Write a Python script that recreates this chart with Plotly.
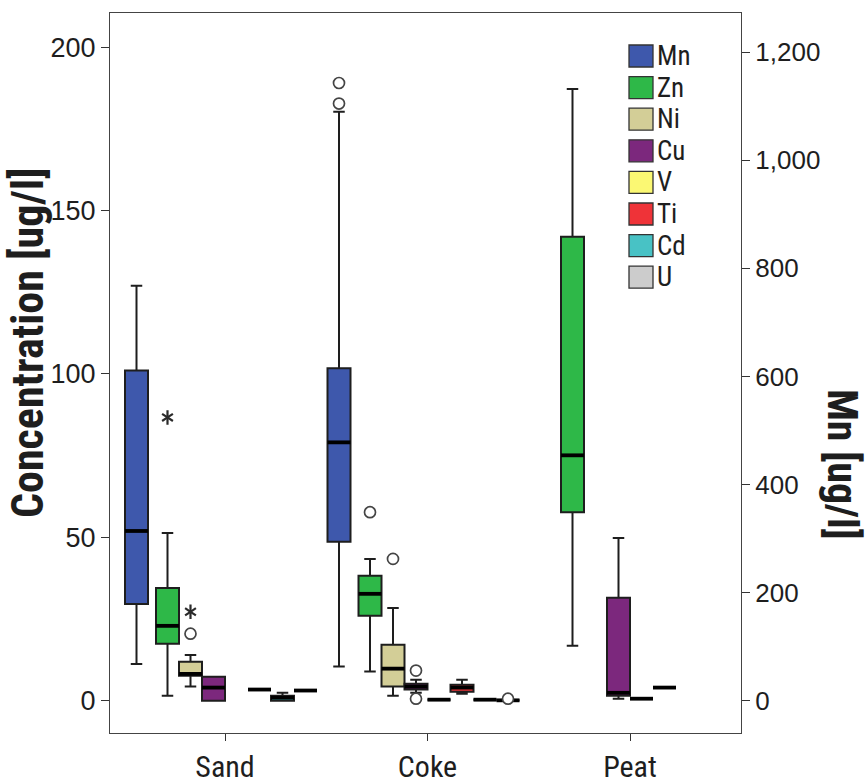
import plotly.graph_objects as go

# ---- data -------------------------------------------------------------
categories = ["Sand", "Coke", "Peat"]
elements = ["Mn", "Zn", "Ni", "Cu", "V", "Ti", "Cd", "U"]
colors = ["#3E58AC", "#2EB848", "#D3CE97", "#7C287D",
          "#FBF873", "#EF3338", "#48C2C5", "#CCCCCC"]

# five-number summaries per element, one entry per category (None = no data)
# Mn is in ug/l on the right axis, the others on the left axis
q1 = {
    "Mn": [179, 294, None], "Zn": [17.4, 26.0, 57.7], "Ni": [7.6, 4.3, None],
    "Cu": [0.0, 3.4, 1.5], "V": [None, 0.3, 0.6], "Ti": [3.4, 2.7, 4.0],
    "Cd": [0.0, 0.3, None], "U": [3.1, 0.1, None],
}
median = {
    "Mn": [314, 478, None], "Zn": [22.9, 32.7, 75.1], "Ni": [8.2, 9.8, None],
    "Cu": [4.0, 4.3, 2.4], "V": [None, 0.3, 0.6], "Ti": [3.4, 4.0, 4.0],
    "Cd": [0.9, 0.3, None], "U": [3.1, 0.1, None],
}
q3 = {
    "Mn": [611, 615, None], "Zn": [34.5, 38.2, 142.0], "Ni": [11.9, 17.1, None],
    "Cu": [7.3, 5.2, 31.5], "V": [None, 0.3, 0.6], "Ti": [3.4, 4.9, 4.0],
    "Cd": [1.5, 0.3, None], "U": [3.1, 0.1, None],
}
lower = {
    "Mn": [68, 63, None], "Zn": [1.5, 8.9, 16.8], "Ni": [4.3, 1.5, None],
    "Cu": [0.0, 2.4, 0.6], "V": [None, 0.3, 0.6], "Ti": [3.4, 2.1, 4.0],
    "Cd": [0.0, 0.3, None], "U": [3.1, 0.1, None],
}
upper = {
    "Mn": [768, 1090, None], "Zn": [51.3, 43.4, 187.2], "Ni": [14.0, 28.4, None],
    "Cu": [7.3, 6.4, 49.8], "V": [None, 0.3, 0.6], "Ti": [3.4, 6.4, 4.0],
    "Cd": [2.4, 0.3, None], "U": [3.1, 0.1, None],
}
# outliers (circles) and extreme values (stars): (element, category index, value)
outliers = [
    ("Mn", 1, 1105), ("Mn", 1, 1143),
    ("Zn", 1, 57.7),
    ("Ni", 0, 20.5), ("Ni", 1, 43.4),
    ("Cu", 1, 9.2), ("Cu", 1, 0.6),
    ("U", 1, 0.6),
]
extremes = [
    ("Zn", 0, 86.7),
    ("Ni", 0, 27.2),
]

# ---- geometry -----------------------------------------------------------
W, H = 868, 784
L, R, T, B = 110, 741, 13, 733          # plot area in pixels
PX_PER_CAT = 202.5                        # pixels between category centres
SLOT = 23 / PX_PER_CAT                    # box width in category units
offsets = {e: (i - 3.5) * SLOT for i, e in enumerate(elements)}
offsets["Mn"] = -88.5 / PX_PER_CAT        # Mn cluster sits a little further left
X0 = -(225 - L) / PX_PER_CAT
X1 = X0 + (R - L) / PX_PER_CAT

def px_x(px):
    return (px - L) / (R - L)

def px_y(py):
    return (B - py) / (B - T)

NARROW = '"Liberation Sans Narrow", "Arial Narrow", "Roboto Condensed", Roboto, sans-serif'
REGULAR = '"Liberation Sans", Arial, sans-serif'
INK = "#1e1e1e"

fig = go.Figure()

# ---- boxes -----------------------------------------------------------------
med_x, med_y, med_x2, med_y2 = [], [], [], []
for e, col in zip(elements, colors):
    idx = [k for k in range(len(categories)) if q1[e][k] is not None]
    if not idx:
        continue
    xs = [k + offsets[e] for k in idx]
    on_right = e == "Mn"
    fig.add_trace(go.Box(
        name=e, x=xs,
        q1=[q1[e][k] for k in idx], median=[median[e][k] for k in idx],
        q3=[q3[e][k] for k in idx], lowerfence=[lower[e][k] for k in idx],
        upperfence=[upper[e][k] for k in idx],
        width=SLOT, whiskerwidth=0.5, boxpoints=False,
        fillcolor=col, line=dict(color=INK, width=2),
        yaxis="y2" if on_right else "y", showlegend=False, hoverinfo="skip",
    ))
    for k, x in zip(idx, xs):
        tx = [x - SLOT / 2, x + SLOT / 2, None]
        ty = [median[e][k], median[e][k], None]
        if on_right:
            med_x2 += tx
            med_y2 += ty
        else:
            med_x += tx
            med_y += ty

# thick median bars
fig.add_trace(go.Scatter(x=med_x, y=med_y, mode="lines",
                         line=dict(color="black", width=3.8),
                         showlegend=False, hoverinfo="skip"))
fig.add_trace(go.Scatter(x=med_x2, y=med_y2, mode="lines", yaxis="y2",
                         line=dict(color="black", width=3.8),
                         showlegend=False, hoverinfo="skip"))

# ---- outliers (open circles) and extremes (six-armed stars) --------------
for axis in ("y", "y2"):
    pts = [(k + offsets[e], v) for e, k, v in outliers
           if (e == "Mn") == (axis == "y2")]
    if pts:
        fig.add_trace(go.Scatter(
            x=[p[0] for p in pts], y=[p[1] for p in pts], mode="markers",
            yaxis=axis,
            marker=dict(symbol="circle", size=11, color="white",
                        line=dict(color="#444444", width=1.7)),
            showlegend=False, hoverinfo="skip"))

star_x = [k + offsets[e] for e, k, v in extremes]
star_y = [v for e, k, v in extremes]
for sym in ("y-up-open", "y-down-open"):
    fig.add_trace(go.Scatter(
        x=star_x, y=star_y, mode="markers",
        marker=dict(symbol=sym, size=9, color="#2a2a2a",
                    line=dict(color="#2a2a2a", width=2.2)),
        showlegend=False, hoverinfo="skip"))

# ---- layout -------------------------------------------------------------
left_range = [-9.9, 210.5]
mn_scale = 1200 / 198.5
right_range = [left_range[0] * mn_scale, left_range[1] * mn_scale]

fig.update_layout(
    width=W, height=H,
    margin=dict(l=L, r=W - R, t=T, b=H - B, pad=0),
    paper_bgcolor="white", plot_bgcolor="white",
    showlegend=False, boxmode="overlay",
    xaxis=dict(
        range=[X0, X1], tickvals=list(range(len(categories))),
        ticktext=categories, ticks="outside", ticklen=7, tickwidth=1.3,
        tickcolor="#333333", showgrid=False, zeroline=False, automargin=False,
        showline=True, linecolor="#444444", linewidth=1.2, mirror=True,
        tickfont=dict(family=NARROW, size=30, color=INK),
    ),
    yaxis=dict(
        range=left_range, tickvals=[0, 50, 100, 150, 200],
        ticks="outside", ticklen=8, tickwidth=1.3, tickcolor="#333333",
        showgrid=False, zeroline=False, showline=True, automargin=False,
        linecolor="#444444", linewidth=1.2,
        tickfont=dict(family=REGULAR, size=27, color=INK),
    ),
    yaxis2=dict(
        range=right_range, tickvals=[0, 200, 400, 600, 800, 1000, 1200],
        tickformat=",d", overlaying="y", side="right",
        ticks="outside", ticklen=8, tickwidth=1.3, tickcolor="#333333",
        showgrid=False, zeroline=False, showline=True, automargin=False,
        linecolor="#444444", linewidth=1.2,
        tickfont=dict(family=REGULAR, size=26, color=INK),
    ),
)

# axis titles
fig.add_annotation(text="<b>Concentration [ug/l]</b>", textangle=-90,
                   xref="paper", yref="paper", x=px_x(28), y=px_y(343),
                   xanchor="center", yanchor="middle", showarrow=False,
                   font=dict(family=NARROW, size=44, color=INK))
fig.add_annotation(text="<b>Mn [ug/l]</b>", textangle=90,
                   xref="paper", yref="paper", x=px_x(843), y=px_y(464),
                   xanchor="center", yanchor="middle", showarrow=False,
                   font=dict(family=NARROW, size=42, color=INK))

# legend: coloured swatches with element names
LEG_X0, LEG_X1 = 629, 653
LEG_Y0, LEG_STEP, LEG_H = 45, 31.6, 22
for i, (e, col) in enumerate(zip(elements, colors)):
    y0 = LEG_Y0 + i * LEG_STEP
    fig.add_shape(type="rect", xref="paper", yref="paper",
                  x0=px_x(LEG_X0), x1=px_x(LEG_X1),
                  y0=px_y(y0 + LEG_H), y1=px_y(y0),
                  fillcolor=col, line=dict(color="#333333", width=1.3))
    fig.add_annotation(text=e, xref="paper", yref="paper",
                       x=px_x(LEG_X1 + 2), y=px_y(y0 + LEG_H / 2),
                       xanchor="left", yanchor="middle", showarrow=False,
                       font=dict(family=NARROW, size=27, color=INK))

fig.write_html("out.html")
